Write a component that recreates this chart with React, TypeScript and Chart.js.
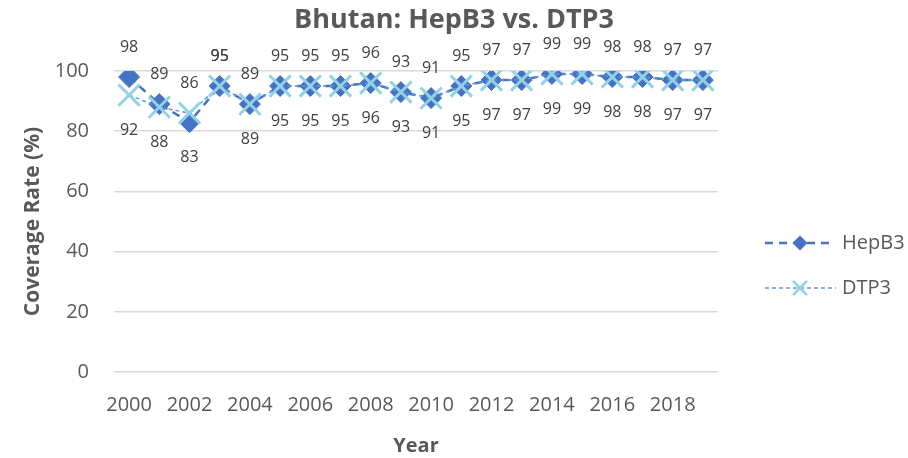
import React, { useEffect, useRef } from 'react';
import { Chart, registerables } from 'chart.js';

Chart.register(...registerables);

const chartTitle = 'Bhutan: HepB3 vs. DTP3';
const xAxisTitle = 'Year';
const yAxisTitle = 'Coverage Rate (%)';

const years = ['2000', '2001', '2002', '2003', '2004', '2005', '2006', '2007', '2008', '2009',
  '2010', '2011', '2012', '2013', '2014', '2015', '2016', '2017', '2018', '2019'];
const hepB3 = [98, 89, 83, 95, 89, 95, 95, 95, 96, 93, 91, 95, 97, 97, 99, 99, 98, 98, 97, 97];
const dtp3 = [92, 88, 86, 95, 89, 95, 95, 95, 96, 93, 91, 95, 97, 97, 99, 99, 98, 98, 97, 97];
const xTickLabels = ['2000', '2002', '2004', '2006', '2008', '2010', '2012', '2014', '2016', '2018'];
const yMin = 0;
const yMax = 100;
const yStep = 20;
// years where the DTP3 label sits above its point (as in the reference)
const dtp3LabelsAbove = ['2003'];

const FONT = "'Open Sans', sans-serif";
const TEXT = '#595959';
const LABEL = '#404040';
const HEP_COLOR = '#4472C4';
const DTP_LINE = '#5B9BD5';
const DTP_MARK = '#92D2E4';

const labelsPlugin = {
  id: 'pointLabels',
  afterDatasetsDraw(chart: any) {
    const ctx = chart.ctx;
    const hMeta = chart.getDatasetMeta(0);
    const dMeta = chart.getDatasetMeta(1);
    ctx.save();
    ctx.font = `16px ${FONT}`;
    ctx.fillStyle = LABEL;
    ctx.textAlign = 'center';
    ctx.textBaseline = 'middle';
    const ABOVE = 30;
    const BELOW = 35;
    for (let i = 0; i < years.length; i++) {
      const hp = hMeta.data[i];
      const dp = dMeta.data[i];
      const h = hepB3[i];
      const d = dtp3[i];
      const hAbove = h >= d;
      let dAbove = d > h;
      if (dtp3LabelsAbove.includes(years[i])) dAbove = true;
      ctx.fillText(String(h), hp.x, hAbove ? hp.y - ABOVE : hp.y + BELOW);
      ctx.fillText(String(d), dp.x, dAbove ? dp.y - ABOVE : dp.y + BELOW);
    }
    ctx.restore();
  },
  afterDraw(chart: any) {
    const ctx = chart.ctx;
    const ds = chart.data.datasets;
    ctx.save();
    // HepB3 entry
    const y1 = 243;
    ctx.strokeStyle = HEP_COLOR;
    ctx.lineWidth = 2.5;
    ctx.setLineDash([8, 6]);
    ctx.beginPath();
    ctx.moveTo(765, y1);
    ctx.lineTo(829, y1);
    ctx.stroke();
    ctx.setLineDash([]);
    ctx.fillStyle = HEP_COLOR;
    ctx.beginPath();
    const r1 = 7.5;
    ctx.moveTo(800, y1 - r1);
    ctx.lineTo(800 + r1, y1);
    ctx.lineTo(800, y1 + r1);
    ctx.lineTo(800 - r1, y1);
    ctx.closePath();
    ctx.fill();
    // DTP3 entry
    const y2 = 288;
    ctx.strokeStyle = DTP_LINE;
    ctx.lineWidth = 1.5;
    ctx.setLineDash([4, 3]);
    ctx.beginPath();
    ctx.moveTo(765, y2);
    ctx.lineTo(836, y2);
    ctx.stroke();
    ctx.setLineDash([]);
    ctx.strokeStyle = DTP_MARK;
    ctx.lineWidth = 2.5;
    const r2 = 7;
    ctx.beginPath();
    ctx.moveTo(800 - r2, y2 - r2);
    ctx.lineTo(800 + r2, y2 + r2);
    ctx.moveTo(800 + r2, y2 - r2);
    ctx.lineTo(800 - r2, y2 + r2);
    ctx.stroke();
    ctx.font = `20px ${FONT}`;
    ctx.fillStyle = TEXT;
    ctx.textAlign = 'left';
    ctx.textBaseline = 'middle';
    ctx.fillText(ds[0].label, 842, y1);
    ctx.fillText(ds[1].label, 842, y2);
    ctx.restore();
  },
};

export default function App() {
  const canvasRef = useRef<HTMLCanvasElement | null>(null);

  useEffect(() => {
    document.body.style.margin = '0';
    const canvas = canvasRef.current;
    if (!canvas) return;
    Chart.defaults.font.family = FONT;
    const chart = new Chart(canvas, {
      type: 'line',
      data: {
        labels: years,
        datasets: [
          {
            label: 'HepB3',
            data: hepB3,
            borderColor: HEP_COLOR,
            backgroundColor: HEP_COLOR,
            borderWidth: 2.5,
            borderDash: [8, 6],
            pointStyle: 'rectRot',
            pointRadius: 10.5,
            pointBackgroundColor: HEP_COLOR,
            pointBorderColor: HEP_COLOR,
            pointBorderWidth: 1,
            tension: 0,
            fill: false,
            order: 2,
          },
          {
            label: 'DTP3',
            data: dtp3,
            borderColor: DTP_LINE,
            backgroundColor: DTP_MARK,
            borderWidth: 1.5,
            borderDash: [4, 3],
            pointStyle: 'crossRot',
            pointRadius: 15,
            pointBorderColor: DTP_MARK,
            pointBorderWidth: 3,
            tension: 0,
            fill: false,
            order: 1,
          },
        ],
      },
      options: {
        responsive: false,
        animation: false,
        layout: { padding: { left: 0, right: 0, top: 0, bottom: 0 } },
        plugins: {
          legend: { display: false },
          tooltip: { enabled: false },
          title: {
            display: true,
            text: chartTitle,
            color: TEXT,
            font: { family: FONT, size: 27, weight: 'bold' },
            padding: { top: 4, bottom: 34.6 },
          },
        },
        scales: {
          x: {
            type: 'category',
            offset: true,
            grid: { display: false, drawTicks: false },
            border: { display: false },
            ticks: {
              autoSkip: false,
              maxRotation: 0,
              minRotation: 0,
              padding: 21,
              color: TEXT,
              font: { family: FONT, size: 20 },
              callback: (_v: any, idx: number) => (xTickLabels.includes(years[idx]) ? years[idx] : ''),
            },
            title: {
              display: true,
              text: xAxisTitle,
              color: TEXT,
              font: { family: FONT, size: 20, weight: 'bold' },
              padding: 0,
            },
            afterFit: (scale: any) => {
              scale.height = 86;
            },
          },
          y: {
            min: yMin,
            max: yMax,
            grid: { color: '#D9D9D9', lineWidth: 1.5, drawTicks: false },
            border: { display: false },
            ticks: {
              stepSize: yStep,
              padding: 25,
              color: TEXT,
              font: { family: FONT, size: 20 },
            },
            title: {
              display: true,
              text: yAxisTitle,
              color: TEXT,
              font: { family: FONT, size: 21, weight: 'bold' },
              padding: { top: 20, bottom: 0 },
            },
            afterFit: (scale: any) => {
              scale.width = 114;
            },
          },
          legendSpace: {
            type: 'linear',
            position: 'right',
            display: true,
            grid: { display: false, drawTicks: false },
            border: { display: false },
            ticks: { display: false },
            afterFit: (scale: any) => {
              scale.width = 190;
            },
          },
        },
      },
      plugins: [labelsPlugin],
    });
    return () => chart.destroy();
  }, []);

  return (
    <div style={{ width: 908, height: 458 }}>
      <canvas ref={canvasRef} width={908} height={458} style={{ display: 'block' }} />
    </div>
  );
}
